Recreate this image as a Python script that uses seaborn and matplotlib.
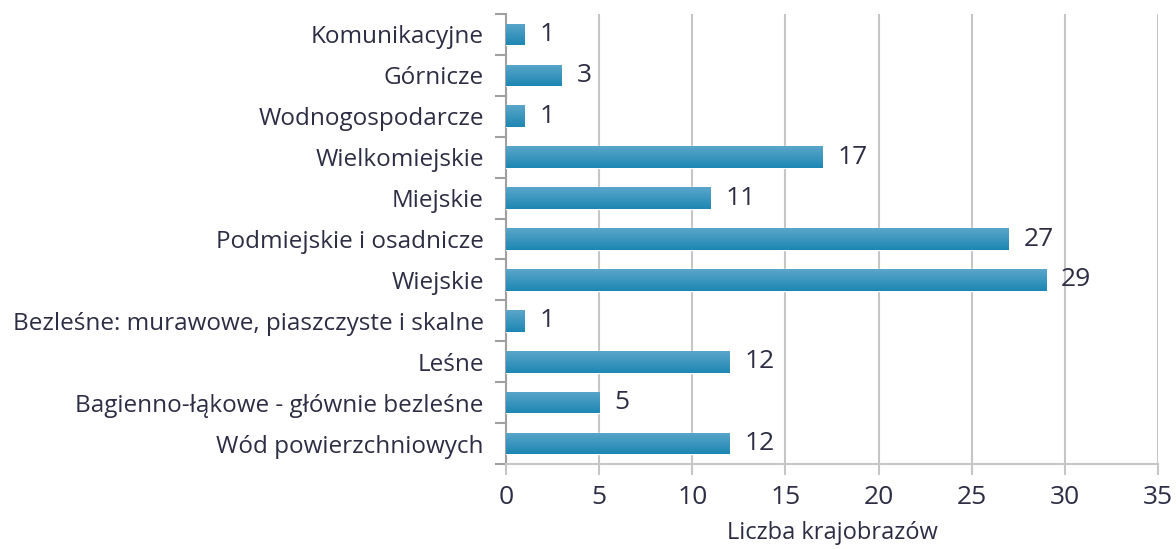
import numpy as np
import pandas as pd
import matplotlib
matplotlib.use("Agg")
import matplotlib.pyplot as plt
import seaborn as sns

categories = ["Komunikacyjne", "Górnicze", "Wodnogospodarcze", "Wielkomiejskie",
              "Miejskie", "Podmiejskie i osadnicze", "Wiejskie",
              "Bezleśne: murawowe, piaszczyste i skalne", "Leśne",
              "Bagienno-łąkowe - głównie bezleśne", "Wód powierzchniowych"]
counts = [1, 3, 1, 17, 11, 27, 29, 1, 12, 5, 12]
xticks = [0, 5, 10, 15, 20, 25, 30, 35]

df = pd.DataFrame({"typ": categories, "liczba": counts})

sns.set_style("white")
plt.rcParams['font.family'] = ['Open Sans', 'DejaVu Sans']
txt = "#2d2d45"
grid = "#c6c6c6"

fig = plt.figure(figsize=(11.76, 5.49), dpi=100)
ax = fig.add_axes([0.4303, 0.1548, 0.9847 - 0.4303, 0.9745 - 0.1548])

sns.barplot(data=df, x="liczba", y="typ", color="#2b8fbb", width=0.53, ax=ax, zorder=3)

# gradient na słupkach
grad = np.linspace(0, 1, 64).reshape(-1, 1)
cmap = matplotlib.colors.LinearSegmentedColormap.from_list("g", ["#5ba6ca", "#1c87b3"])
for p in ax.patches:
    x0, y0 = p.get_x(), p.get_y()
    w, h = p.get_width(), p.get_height()
    im = ax.imshow(grad, cmap=cmap, aspect="auto", extent=[x0, x0 + w, y0 + h, y0],
                   zorder=4, interpolation="bilinear")
    im.set_clip_path(p)

for i, v in enumerate(counts):
    ax.text(v + 0.8, i, str(v), va="center", ha="left", fontsize=19, color=txt)

ax.set_xlim(0, 35)
ax.set_ylim(len(categories) - 0.5, -0.5)
ax.set_xticks(xticks)
ax.set_xticklabels([str(t) for t in xticks], fontsize=19, color=txt)
ax.set_yticks(range(len(categories)))
ax.set_yticklabels(categories, fontsize=17.5, color=txt)
ax.set_yticks(np.arange(-0.5, len(categories), 1), minor=True)
ax.tick_params(axis="y", which="major", left=True, length=0, pad=16)
ax.tick_params(axis="y", which="minor", left=True, length=8, color="#a0a0a0", width=1.5, direction="out")
ax.tick_params(axis="x", bottom=True, length=8, color=grid, width=1.5, direction="out", pad=7)
ax.xaxis.grid(True, color=grid, linewidth=1.5, zorder=0)
ax.set_axisbelow(True)
ax.set_ylabel("")
ax.set_xlabel("Liczba krajobrazów", fontsize=17, color=txt, labelpad=8)

for s in ["top", "right"]:
    ax.spines[s].set_visible(False)
ax.spines["left"].set_color("#a0a0a0")
ax.spines["left"].set_linewidth(1.5)
ax.spines["bottom"].set_color(grid)
ax.spines["bottom"].set_linewidth(1.5)

fig.savefig("out.png", dpi=100)
